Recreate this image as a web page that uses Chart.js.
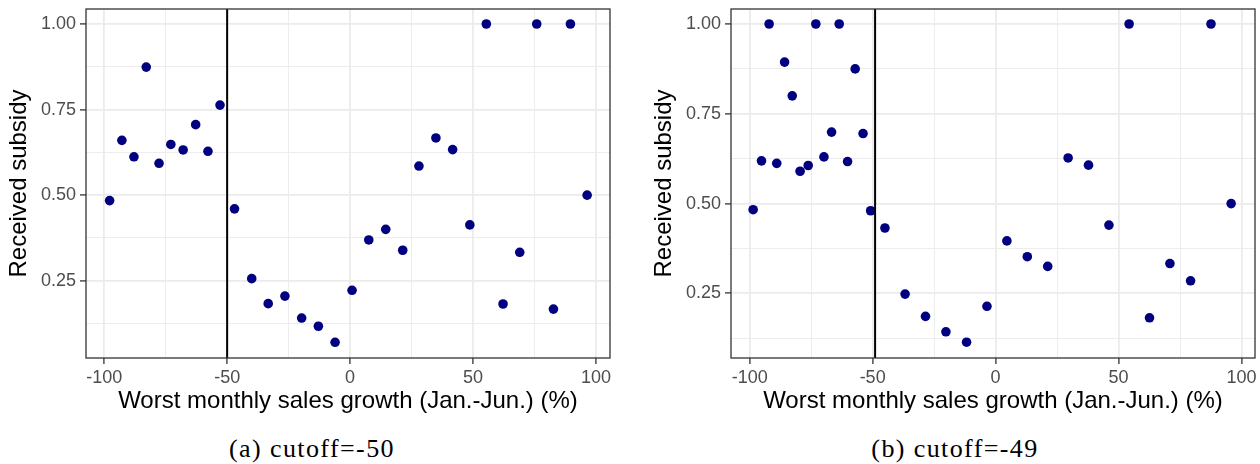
<!DOCTYPE html>
<html lang="en">
<head>
<meta charset="UTF-8">
<title>Received subsidy by worst monthly sales growth</title>
<script src="https://cdn.jsdelivr.net/npm/chart.js@4.4.0/dist/chart.umd.min.js"></script>
<style>
  html, body { margin: 0; padding: 0; background: #fff; }
  body { width: 1260px; height: 464px; position: relative; overflow: hidden; }
  .panel { position: absolute; top: 0; width: 630px; height: 420px; }
  .caption {
    position: absolute; top: 436px; line-height: 26px;
    font-family: 'Liberation Serif', serif; font-size: 26px; letter-spacing: 1.4px;
    color: #000; transform: translateX(-50%); white-space: nowrap;
  }
</style>
</head>
<body>
<div class="panel" style="left:0"><canvas id="chartA" width="630" height="420"></canvas></div>
<div class="panel" style="left:645px"><canvas id="chartB" width="630" height="420"></canvas></div>
<div class="caption" style="left:312px">(a) cutoff=-50</div>
<div class="caption" style="left:955px">(b) cutoff=-49</div>
<script>
// binned means, cutoff = -50
const growthA = [-97.8, -92.8, -87.9, -82.9, -77.7, -72.9, -67.9, -62.8, -57.8, -52.9, -47.0,
  -40.0, -33.3, -26.5, -19.7, -12.9, -6.1, 0.8, 7.6, 14.5, 21.4, 28.0, 34.9, 41.7, 48.7,
  55.4, 62.2, 69.0, 75.9, 82.7, 89.6, 96.4];
const subsidyA = [0.484, 0.660, 0.612, 0.874, 0.593, 0.648, 0.632, 0.706, 0.628, 0.763, 0.460,
  0.256, 0.183, 0.205, 0.141, 0.117, 0.070, 0.222, 0.369, 0.400, 0.339, 0.585, 0.667, 0.633, 0.413,
  1.00, 0.182, 0.333, 1.00, 0.167, 1.00, 0.500];
const cutoffA = -50;

// binned means, cutoff = -49
const growthB = [-98.6, -95.2, -92.1, -89.0, -85.8, -82.7, -79.5, -76.2, -73.1, -69.8, -66.7,
  -63.6, -60.2, -57.1, -53.9, -50.8, -45.0, -36.8, -28.5, -20.2, -11.8, -3.5, 4.6, 12.9, 21.2,
  29.5, 37.8, 46.1, 54.3, 62.6, 70.9, 79.3, 87.6, 95.8];
const subsidyB = [0.483, 0.619, 1.0, 0.612, 0.894, 0.800, 0.590, 0.606, 1.0, 0.630, 0.699,
  1.0, 0.617, 0.875, 0.695, 0.480, 0.432, 0.248, 0.186, 0.143, 0.114, 0.214, 0.396, 0.352, 0.325,
  0.627, 0.607, 0.440, 1.0, 0.182, 0.333, 0.285, 1.0, 0.500];
const cutoffB = -49;

// ticks: major ones get a label, minor ones only a thin grid line
const xTicks = [-100, -75, -50, -25, 0, 25, 50, 75, 100];
const xMajor = [-100, -50, 0, 50, 100];
const xTickLabels = ['-100', '-50', '0', '50', '100'];
const yTicks = [0.125, 0.25, 0.375, 0.5, 0.625, 0.75, 0.875, 1.0];
const yMajor = [0.25, 0.5, 0.75, 1.0];
const yTickLabels = ['0.25', '0.50', '0.75', '1.00'];

const xTitle = 'Worst monthly sales growth (Jan.-Jun.) (%)';
const yTitle = 'Received subsidy';

const sans = 'Liberation Sans, Arial, sans-serif';
const gridGrey = '#EBEBEB';

// cutoff line and panel border
const panelDecor = {
  id: 'panelDecor',
  afterDatasetsDraw(chart, args, opts) {
    const {ctx, chartArea: a, scales: {x}} = chart;
    const px = x.getPixelForValue(opts.cutoff);
    ctx.save();
    ctx.strokeStyle = '#000';
    ctx.lineWidth = 2;
    ctx.beginPath();
    ctx.moveTo(px, a.top);
    ctx.lineTo(px, a.bottom);
    ctx.stroke();
    ctx.strokeStyle = '#333333';
    ctx.lineWidth = 1.3;
    ctx.strokeRect(a.left, a.top, a.right - a.left, a.bottom - a.top);
    ctx.restore();
  }
};

// fixed axis boxes, and no extra room reserved for the end labels
function fixBox(s, w, h) {
  if (w !== null) s.width = w;
  if (h !== null) s.height = h;
  s.paddingTop = 0; s.paddingBottom = 0;
  s.paddingLeft = 0; s.paddingRight = 0;
}

function makeChart(id, growth, subsidy, cutoff, xMin, xMax, yMin, yMax) {
  const isMajor = (list, v) => list.some(m => Math.abs(m - v) < 1e-9);
  return new Chart(document.getElementById(id), {
    type: 'scatter',
    data: {
      datasets: [{
        data: growth.map((g, i) => ({x: g, y: subsidy[i]})),
        backgroundColor: '#000080',
        borderWidth: 0,
        pointRadius: 4.8,
        pointHoverRadius: 4.8
      }]
    },
    options: {
      responsive: false,
      animation: false,
      layout: {padding: {top: 9, right: 20, left: 0, bottom: 0}},
      plugins: {
        legend: {display: false},
        tooltip: {enabled: false},
        panelDecor: {cutoff: cutoff}
      },
      scales: {
        x: {
          type: 'linear',
          min: xMin, max: xMax,
          afterBuildTicks: s => { s.ticks = xTicks.map(v => ({value: v})); },
          afterFit: s => fixBox(s, null, 62),
          border: {display: false},
          grid: {
            color: gridGrey,
            lineWidth: c => isMajor(xMajor, c.tick.value) ? 1.8 : 0.9,
            tickColor: c => isMajor(xMajor, c.tick.value) ? '#333333' : 'rgba(0,0,0,0)',
            tickWidth: 1.3,
            tickLength: 6
          },
          ticks: {
            autoSkip: false,
            maxRotation: 0,
            padding: 3.3,
            color: '#4D4D4D',
            font: {family: sans, size: 18},
            callback: v => {
              const k = xMajor.findIndex(m => Math.abs(m - v) < 1e-9);
              return k < 0 ? '' : xTickLabels[k];
            }
          },
          title: {
            display: true,
            text: xTitle,
            color: '#000',
            font: {family: sans, size: 24},
            padding: {top: 4, bottom: 4.4}
          }
        },
        y: {
          type: 'linear',
          min: yMin, max: yMax,
          afterBuildTicks: s => { s.ticks = yTicks.map(v => ({value: v})); },
          afterFit: s => fixBox(s, 86, null),
          border: {display: false},
          grid: {
            color: gridGrey,
            lineWidth: c => isMajor(yMajor, c.tick.value) ? 1.8 : 0.9,
            tickColor: c => isMajor(yMajor, c.tick.value) ? '#333333' : 'rgba(0,0,0,0)',
            tickWidth: 1.3,
            tickLength: 6
          },
          ticks: {
            autoSkip: false,
            padding: 4,
            color: '#4D4D4D',
            font: {family: sans, size: 18},
            callback: v => {
              const k = yMajor.findIndex(m => Math.abs(m - v) < 1e-9);
              return k < 0 ? '' : yTickLabels[k];
            }
          },
          title: {
            display: true,
            text: yTitle,
            color: '#000',
            font: {family: sans, size: 24},
            padding: {top: 4.5, bottom: 0}
          }
        }
      }
    },
    plugins: [panelDecor]
  });
}

makeChart('chartA', growthA, subsidyA, cutoffA, -107.4, 105.7, 0.0242, 1.0438);
makeChart('chartB', growthB, subsidyB, cutoffB, -107.6, 105.5, 0.07, 1.0418);
</script>
</body>
</html>
